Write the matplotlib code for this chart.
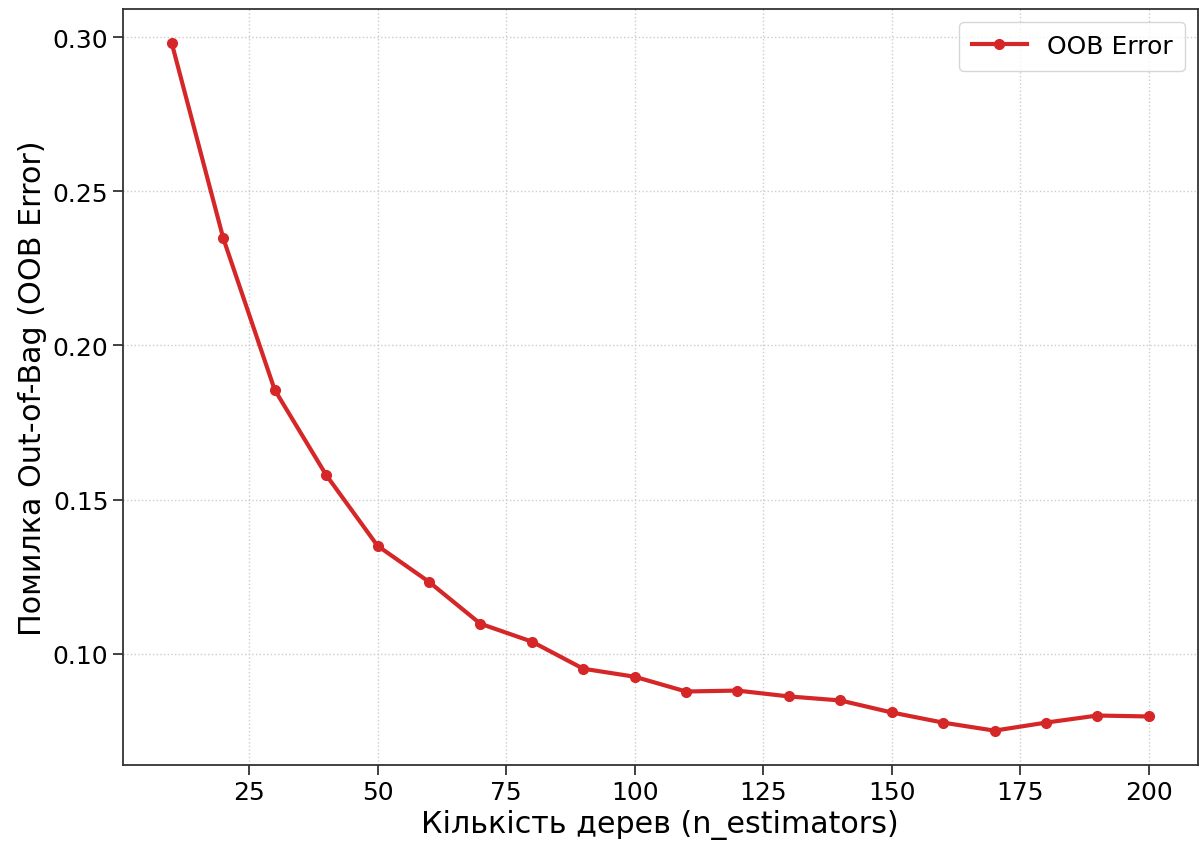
import numpy as np
import matplotlib
matplotlib.use("Agg")
import matplotlib.pyplot as plt

n_estimators = [10, 20, 30, 40, 50, 60, 70, 80, 90, 100,
                110, 120, 130, 140, 150, 160, 170, 180, 190, 200]
oob_error = [0.298, 0.2348, 0.1856, 0.158, 0.135, 0.1233, 0.1097, 0.1039, 0.0951, 0.0925,
             0.0877, 0.0880, 0.0861, 0.0848, 0.0809, 0.0776, 0.0750, 0.0776, 0.0799, 0.0796]

fig, ax = plt.subplots(figsize=(12, 8.45), dpi=100)
fig.subplots_adjust(left=0.1025, right=0.998, top=0.988, bottom=0.0935)

ax.plot(n_estimators, oob_error, marker="o", color="#d62728", linewidth=3,
        markersize=7, label="OOB Error")

ax.set_xlabel("Кількість дерев (n_estimators)", fontsize=21.7)
ax.set_ylabel("Помилка Out-of-Bag (OOB Error)", fontsize=21.7)
ax.tick_params(labelsize=18, length=7, width=1.3, color="#333333")
ax.grid(True, linestyle=":", color="#cccccc", linewidth=1)
for s in ax.spines.values():
    s.set_color("#333333")
    s.set_linewidth(1.3)

ax.legend(fontsize=18, loc="upper right", handlelength=2.2, borderpad=0.5)

fig.savefig("out.png", dpi=100)
